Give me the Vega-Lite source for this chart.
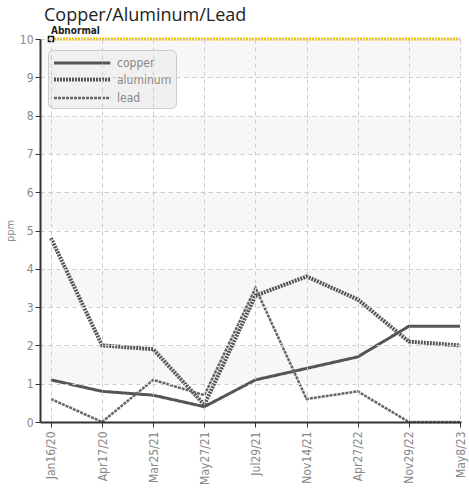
{
  "$schema": "https://vega.github.io/schema/vega-lite/v6.json",
  "width": 421,
  "height": 383,
  "autosize": "none",
  "padding": {"left": 40, "top": 39, "right": 8, "bottom": 69},
  "background": "white",
  "title": {"text": "Copper/Aluminum/Lead", "anchor": "start", "frame": "group", "dx": 4, "offset": 1, "fontSize": 18, "font": "Open Sans", "fontWeight": "normal", "color": "#222"},
  "datasets": {
    "bands": [{"y0": 1, "y1": 2}, {"y0": 3, "y1": 4}, {"y0": 5, "y1": 6}, {"y0": 7, "y1": 8}, {"y0": 9, "y1": 10}],
    "limit": [{"date": "Jan16/20", "ppm": 10, "label": "Abnormal"}, {"date": "May8/23", "ppm": 10, "label": ""}],
    "series": [
      {"date": "Jan16/20", "metal": "copper", "ppm": 1.1},
      {"date": "Apr17/20", "metal": "copper", "ppm": 0.8},
      {"date": "Mar25/21", "metal": "copper", "ppm": 0.7},
      {"date": "May27/21", "metal": "copper", "ppm": 0.4},
      {"date": "Jul29/21", "metal": "copper", "ppm": 1.1},
      {"date": "Nov14/21", "metal": "copper", "ppm": 1.4},
      {"date": "Apr27/22", "metal": "copper", "ppm": 1.7},
      {"date": "Nov29/22", "metal": "copper", "ppm": 2.5},
      {"date": "May8/23", "metal": "copper", "ppm": 2.5},
      {"date": "Jan16/20", "metal": "aluminum", "ppm": 4.8},
      {"date": "Apr17/20", "metal": "aluminum", "ppm": 2.0},
      {"date": "Mar25/21", "metal": "aluminum", "ppm": 1.9},
      {"date": "May27/21", "metal": "aluminum", "ppm": 0.45},
      {"date": "Jul29/21", "metal": "aluminum", "ppm": 3.3},
      {"date": "Nov14/21", "metal": "aluminum", "ppm": 3.8},
      {"date": "Apr27/22", "metal": "aluminum", "ppm": 3.2},
      {"date": "Nov29/22", "metal": "aluminum", "ppm": 2.1},
      {"date": "May8/23", "metal": "aluminum", "ppm": 2.0},
      {"date": "Jan16/20", "metal": "lead", "ppm": 0.6},
      {"date": "Apr17/20", "metal": "lead", "ppm": 0.0},
      {"date": "Mar25/21", "metal": "lead", "ppm": 1.1},
      {"date": "May27/21", "metal": "lead", "ppm": 0.7},
      {"date": "Jul29/21", "metal": "lead", "ppm": 3.5},
      {"date": "Nov14/21", "metal": "lead", "ppm": 0.6},
      {"date": "Apr27/22", "metal": "lead", "ppm": 0.8},
      {"date": "Nov29/22", "metal": "lead", "ppm": 0.0},
      {"date": "May8/23", "metal": "lead", "ppm": 0.0}
    ]
  },
  "config": {
    "view": {"stroke": null},
    "axis": {"labelFont": "DejaVu Sans Condensed", "labelFontSize": 12, "labelColor": "#888", "titleFont": "DejaVu Sans Condensed", "titleColor": "#888", "titleFontWeight": "normal", "titleFontSize": 11, "domainColor": "#333", "domainWidth": 2, "tickColor": "#333", "tickSize": 5, "gridColor": "#ccc", "gridDash": [4, 4], "gridWidth": 1}
  },
  "layer": [
    {
      "data": {"name": "bands"},
      "mark": {"type": "rect", "fill": "#f7f7f7"},
      "encoding": {
        "y": {"field": "y0", "type": "quantitative", "scale": {"domain": [0, 10], "nice": false},
          "axis": {"title": "ppm", "values": [0,1,2,3,4,5,6,7,8,9,10], "tickCount": 11, "labelOverlap": false, "labelSeparation": 0, "grid": true, "titlePadding": 4, "labelPadding": 2, "zindex": 1}},
        "y2": {"field": "y1"}
      }
    },
    {
      "data": {"name": "series"},
      "mark": {"type": "line", "strokeCap": "butt"},
      "encoding": {
        "x": {"field": "date", "type": "nominal", "sort": null, "scale": {"type": "point", "padding": 0.117, "align": 0.917},
          "axis": {"title": null, "labelAngle": -90, "labelAlign": "right", "labelBaseline": "middle", "labelPadding": 4, "grid": true, "domain": true, "zindex": 1}},
        "y": {"field": "ppm", "type": "quantitative",
          "axis": {"title": "ppm", "values": [0,1,2,3,4,5,6,7,8,9,10], "tickCount": 11, "labelOverlap": false, "labelSeparation": 0, "grid": true, "titlePadding": 4, "labelPadding": 2, "zindex": 1}},
        "color": {"field": "metal", "type": "nominal", "scale": {"domain": ["copper", "aluminum", "lead"], "range": ["#555555", "#555555", "#666666"]},
          "legend": {"title": null, "orient": "none", "legendX": 8, "legendY": 11, "symbolType": "M-1,0H6.5", "symbolSize": 225, "labelFont": "DejaVu Sans Condensed", "labelFontSize": 12, "labelColor": "#888", "fillColor": "#f0f0f0", "strokeColor": "#ccc", "cornerRadius": 5, "padding": 4, "rowPadding": 1, "labelOffset": 46}},
        "strokeDash": {"field": "metal", "type": "nominal", "scale": {"domain": ["copper", "aluminum", "lead"], "range": [[1, 0], [2, 1], [3, 1]]}},
        "strokeWidth": {"field": "metal", "type": "nominal", "scale": {"type": "ordinal", "domain": ["copper", "aluminum", "lead"], "range": [3, 4, 2.5]}}
      }
    },
    {
      "data": {"name": "limit"},
      "mark": {"type": "line", "color": "#f2c200", "strokeWidth": 3, "strokeDash": [2, 1]},
      "encoding": {
        "x": {"field": "date", "type": "nominal", "sort": null},
        "y": {"field": "ppm", "type": "quantitative"}
      }
    },
    {
      "data": {"name": "limit"},
      "transform": [{"filter": "datum.label != ''"}],
      "mark": {"type": "point", "shape": "square", "filled": true, "fill": "white", "stroke": "#111", "strokeWidth": 1.5, "size": 25, "opacity": 1},
      "encoding": {
        "x": {"field": "date", "type": "nominal", "sort": null},
        "y": {"field": "ppm", "type": "quantitative"}
      }
    },
    {
      "data": {"name": "limit"},
      "transform": [{"filter": "datum.label != ''"}],
      "mark": {"type": "text", "align": "left", "baseline": "bottom", "dx": 0, "dy": -3, "fontSize": 10, "fontWeight": "bold", "font": "DejaVu Sans Condensed", "color": "#222"},
      "encoding": {
        "x": {"field": "date", "type": "nominal", "sort": null},
        "y": {"field": "ppm", "type": "quantitative"},
        "text": {"field": "label"}
      }
    }
  ]
}
